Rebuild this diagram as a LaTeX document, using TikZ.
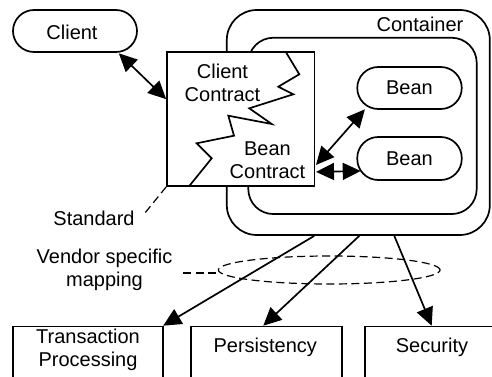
\documentclass[tikz,border=0pt]{standalone}
\usepackage{fontspec}
\setmainfont{Liberation Sans}
\usetikzlibrary{arrows.meta,calc,shapes.geometric}
\begin{document}
\begin{tikzpicture}[x=1pt,y=-1pt,
  every node/.style={font=\fontsize{20}{23}\selectfont, inner sep=0pt, align=center},
  ln/.style={line width=1.7pt},
  pill/.style={ln, draw, rectangle, rounded corners=21pt, minimum width=104.5pt, minimum height=42pt},
  boxr/.style={ln, draw, rectangle, anchor=north},
  arr/.style={ln, -{Triangle[length=18pt,width=17pt]}},
  darr/.style={ln, {Triangle[length=18pt,width=17pt]}-{Triangle[length=18pt,width=17pt]}},
  dsh/.style={line width=1.2pt, dash pattern=on 8pt off 4.5pt}
]
\clip (0,0) rectangle (492,377);
\fill[white] (0,0) rectangle (492,377);
% container
\node[ln, draw, rectangle, rounded corners=30pt, minimum width=263pt, minimum height=225pt] (outer) at (358.3,122.5) {};
\node[ln, draw, rectangle, rounded corners=25pt, minimum width=228.4pt, minimum height=176.3pt] (inner) at (362.5,125.9) {};
\node (contlbl) at (420,24) {Container};
\node[pill] (bean1) at (409.5,88) {Bean};
\node[pill, minimum height=43pt] (bean2) at (409.5,158.5) {Bean};
% client
\node[pill, minimum width=124pt] (client) at (75,31) {};
\node (clientlbl) at (72,32) {Client};
% standard box
\node[ln, draw, fill=white, rectangle, minimum width=147.3pt, minimum height=133.7pt] (std) at (240.7,119.2) {};
\draw[ln, line join=miter] (286,52.3) -- (299.3,74.3) -- (278.3,86.7) -- (293.3,94.3) -- (249.3,108.3)
  -- (271.7,124) -- (228.3,115.7) -- (234,135.7) -- (196.7,143.3) -- (211.7,158.3) -- (189.3,186);
\node (cclbl) at (222.5,83) {Client\\Contract};
\node (bclbl) at (267.5,160) {Bean\\Contract};
% standard label
\node (stdlbl) at (94,218) {Standard};
\coordinate (stdend) at (143.3,215);
\draw[dsh] (std.south west) -- (stdend);
% arrows top
\draw[darr] ($(client.south east)+(-19,0.5)$) -- ($(std.north west)+(0,47.7)$);
\draw[darr] ($(std.south east)+(0.8,-22)$) -- ($(bean1.south west)+(8.5,-0.5)$);
\draw[darr] ($(std.south east)+(0.8,-15)$) -- ($(bean2.west)+(4.3,12.5)$);
% vendor mapping
\node (vlbl) at (104.5,270) {Vendor specific\\mapping};
\node[dsh, draw, ellipse, minimum width=221.7pt, minimum height=28pt] (vmap) at (329.2,270) {};
\coordinate (vend) at (183.3,273);
\draw[dsh] (vend) -- ($(vmap.west)+(0,3)$);
% bottom boxes
\node[boxr, minimum width=150.6pt, minimum height=80pt] (trans) at (88,325.7) {};
\node (translbl) at (88,350.3) {Transaction\\Processing};
\node[boxr, minimum width=151pt, minimum height=80pt] (pers) at (266.2,325.7) {};
\node (perslbl) at (265.3,347.7) {Persistency};
\node[boxr, minimum width=155pt, minimum height=80pt] (sec) at (442.5,325.7) {};
\node (seclbl) at (432,347.7) {Security};
% arrows bottom
\draw[arr] ($(outer.south)+(-44,0)$) -- ($(trans.north east)+(-1,0)$);
\draw[arr] ($(outer.south)+(1,0)$) -- ($(pers.north)+(-2.9,0)$);
\draw[arr] ($(outer.south)+(36,0)$) -- ($(sec.north)+(-10.8,0)$);
\end{tikzpicture}
\end{document}
